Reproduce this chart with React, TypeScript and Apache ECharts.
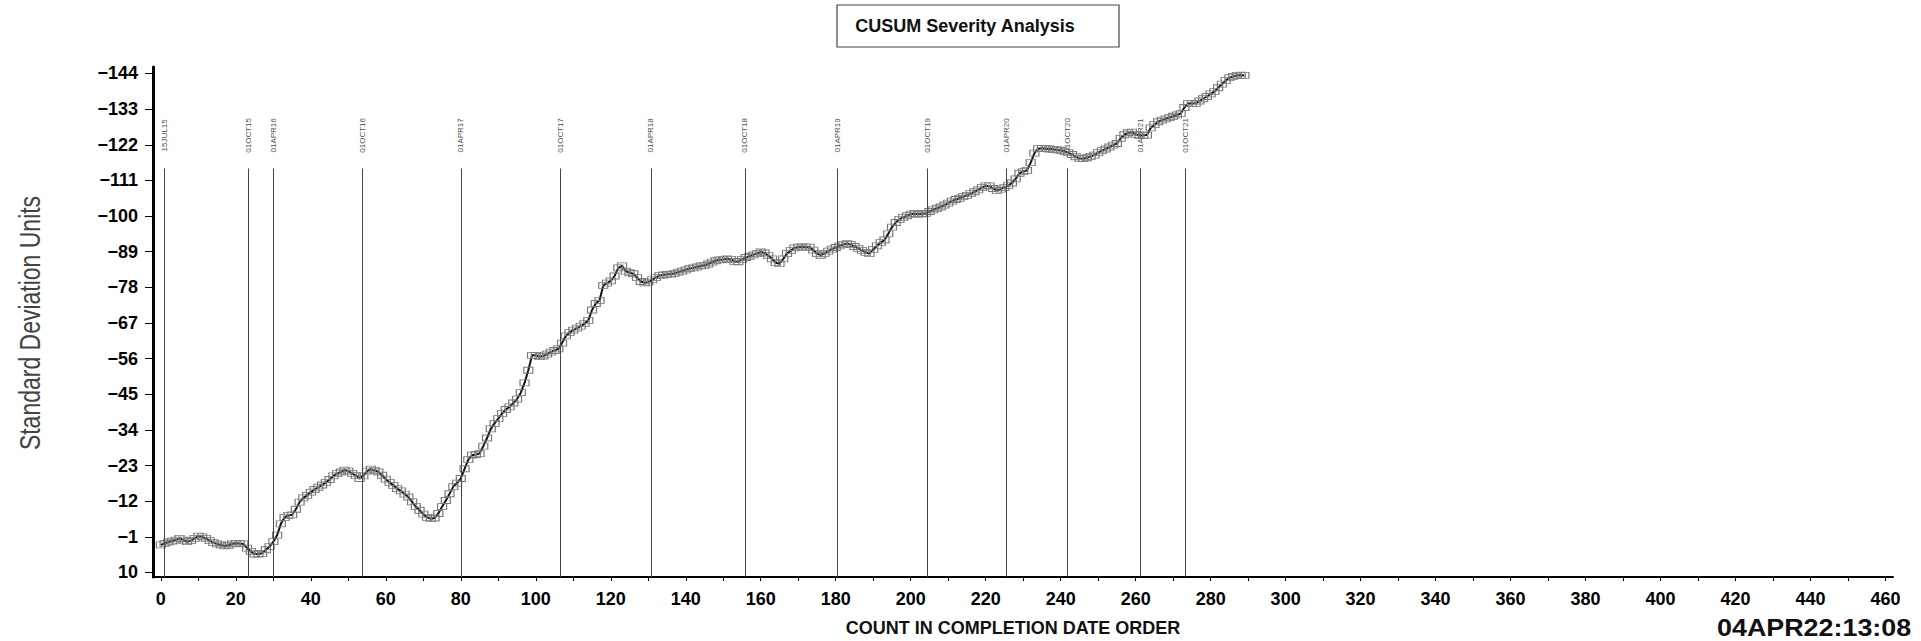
import React, { useEffect, useRef } from "react";
import * as echarts from "echarts";

// CUSUM values, one per count (count 0 .. 289)
const cusumValues: number[] = [
  1.5, 1.0, 0.6, 0.3, 0.0, -0.5, 0.0, 0.5, 0.2, -0.5,
  -1.2, -1.0, -0.5, 0.2, 0.8, 1.2, 1.5, 1.8, 1.6, 1.2,
  1.0, 1.1, 1.2, 2.5, 3.5, 4.3, 4.3, 4.1, 3.0, 2.0,
  0.5, -1.5, -5.0, -7.0, -7.6, -7.8, -9.5, -11.7, -13.0, -13.8,
  -14.8, -15.6, -16.3, -17.0, -17.8, -18.7, -19.8, -20.5, -21.0, -21.6,
  -21.3, -20.6, -19.9, -19.0, -19.8, -21.3, -21.9, -21.5, -21.0, -20.0,
  -18.8, -17.8, -16.9, -15.9, -15.2, -14.2, -13.3, -11.8, -10.3, -9.2,
  -8.0, -7.0, -6.6, -6.8, -8.2, -10.3, -12.2, -14.3, -16.5, -17.6,
  -19.0, -22.0, -24.8, -26.2, -26.4, -26.7, -29.0, -31.5, -34.3, -36.0,
  -37.5, -39.0, -40.3, -41.1, -42.3, -43.5, -45.5, -48.5, -52.4, -57.0,
  -57.0, -56.6, -56.8, -57.4, -58.0, -58.5, -59.0, -60.8, -63.0, -64.0,
  -64.8, -65.4, -66.0, -66.8, -67.8, -71.0, -73.0, -74.0, -78.6, -79.3,
  -80.0, -81.5, -84.0, -84.6, -83.0, -82.5, -82.2, -81.0, -79.8, -79.4,
  -79.6, -80.3, -81.0, -81.7, -81.8, -82.0, -82.1, -82.3, -82.7, -83.0,
  -83.4, -83.8, -84.0, -84.3, -84.6, -84.8, -85.2, -85.8, -86.2, -86.5,
  -86.6, -86.8, -86.6, -86.0, -85.9, -86.6, -87.2, -87.6, -88.0, -88.4,
  -88.9, -88.6, -87.8, -86.8, -85.6, -85.3, -86.8, -88.4, -89.3, -90.2,
  -90.4, -90.5, -90.4, -90.4, -89.5, -88.4, -87.9, -88.5, -89.2, -89.8,
  -90.3, -90.8, -91.2, -91.5, -91.2, -90.6, -90.0, -89.4, -88.8, -88.4,
  -89.7, -90.8, -91.8, -92.6, -94.5, -96.6, -98.0, -99.0, -99.6, -100.1,
  -100.6, -100.7, -100.6, -100.7, -100.8, -101.4, -101.9, -102.4, -102.8, -103.4,
  -104.0, -104.6, -105.1, -105.5, -106.0, -106.4, -106.9, -107.5, -108.1, -108.8,
  -109.3, -109.3, -108.5, -107.9, -108.3, -108.8, -109.4, -110.2, -111.5, -113.2,
  -113.7, -114.1, -116.5, -119.4, -120.8, -120.9, -120.8, -120.7, -120.6, -120.4,
  -120.3, -120.0, -119.6, -119.0, -118.3, -117.8, -117.7, -118.0, -118.4, -118.8,
  -119.6, -120.2, -120.7, -121.3, -121.9, -122.4, -124.0, -125.1, -125.7, -125.9,
  -125.2, -124.9, -124.9, -125.0, -127.2, -128.2, -129.1, -129.6, -130.0, -130.4,
  -130.8, -131.2, -131.6, -133.5, -134.7, -134.7, -134.8, -135.5, -136.2, -136.9,
  -137.7, -138.4, -139.6, -140.7, -141.8, -142.7, -143.1, -143.4, -143.5, -143.4,
];

// Date reference lines (position in count order) and their labels
const markDates: string[] = [
  "15JUL15", "01OCT15", "01APR16", "01OCT16", "01APR17", "01OCT17", "01APR18",
  "01OCT18", "01APR19", "01OCT19", "01APR20", "01OCT20", "01APR21", "01OCT21",
];
const markCounts: number[] = [
  0.9, 23.4, 30.0, 53.8, 80.0, 106.5, 130.7, 155.8, 180.5, 204.5, 225.5, 241.8, 261.2, 273.2,
];
const markLineTop = -114.7;
const markLabelLevel = -124.9;

// Tick labels
const xLabelValues: number[] = [
  0, 20, 40, 60, 80, 100, 120, 140, 160, 180, 200, 220, 240, 260, 280, 300, 320, 340, 360, 380, 400, 420, 440, 460,
];
const xTickValues: number[] = [
  0, 10, 20, 30, 40, 50, 60, 70, 80, 90, 100, 110, 120, 130, 140, 150, 160, 170, 180, 190, 200, 210, 220, 230,
  240, 250, 260, 270, 280, 290, 300, 310, 320, 330, 340, 350, 360, 370, 380, 390, 400, 410, 420, 430, 440, 450, 460,
];
const yLabelValues: number[] = [
  -144, -133, -122, -111, -100, -89, -78, -67, -56, -45, -34, -23, -12, -1, 10,
];

const titleText = "CUSUM Severity Analysis";
const yTitle = "Standard Deviation Units";
const xTitle = "COUNT IN COMPLETION DATE ORDER";
const stampText = "04APR22:13:08";

export default function App() {
  const ref = useRef<HTMLDivElement>(null);

  useEffect(() => {
    if (!ref.current) return;
    const chart = echarts.init(ref.current, null, { renderer: "svg" });
    const font = "'Liberation Sans', Arial, Helvetica, sans-serif";
    const yBottom = 11.4;
    const yTop = -146;

    chart.setOption({
      animation: false,
      backgroundColor: "#ffffff",
      grid: { left: 153, right: 28, top: 67, bottom: 64, containLabel: false },
      xAxis: {
        type: "value",
        min: -2.1,
        max: 462,
        axisLine: { show: true, onZero: false, lineStyle: { color: "#000", width: 2 } },
        axisTick: {
          show: true,
          customValues: xTickValues,
          length: 4,
          lineStyle: { color: "#000", width: 1 },
        },
        axisLabel: {
          customValues: xLabelValues,
          margin: 13,
          fontSize: 18,
          fontWeight: "bold",
          color: "#000",
          fontFamily: font,
        },
        splitLine: { show: false },
      },
      yAxis: {
        type: "value",
        inverse: true,
        min: yTop,
        max: yBottom,
        axisLine: { show: true, onZero: false, lineStyle: { color: "#000", width: 3 } },
        axisTick: {
          show: true,
          customValues: yLabelValues,
          length: 8,
          lineStyle: { color: "#000", width: 1 },
        },
        axisLabel: {
          customValues: yLabelValues,
          margin: 15,
          fontSize: 18,
          fontWeight: "bold",
          color: "#000",
          fontFamily: font,
          formatter: (v: number) => (v < 0 ? "\u2212" + Math.abs(v) : String(v)),
        },
        splitLine: { show: false },
      },
      series: [
        {
          type: "scatter",
          data: markCounts.map((c, i) => ({ value: [c, markLabelLevel], name: markDates[i] })),
          symbolSize: 1,
          itemStyle: { color: "rgba(0,0,0,0)" },
          label: {
            show: true,
            position: "inside",
            rotate: 90,
            formatter: "{b}",
            fontSize: 8,
            color: "#111",
            fontFamily: font,
          },
          silent: true,
          z: 1,
          markLine: {
            silent: true,
            symbol: ["none", "none"],
            label: { show: false },
            lineStyle: { color: "#444", width: 1, type: "solid" },
            data: markCounts.map((c) => [{ coord: [c, yBottom] }, { coord: [c, markLineTop] }]),
          },
        },
        {
          type: "line",
          data: cusumValues.map((v, i) => [i, v]),
          showSymbol: true,
          symbol: "rect",
          symbolSize: [9, 6],
          lineStyle: { color: "#111", width: 2 },
          itemStyle: { color: "rgba(255,255,255,0)", borderColor: "#7a7a7a", borderWidth: 1 },
          z: 3,
        },
      ],
      graphic: [
        {
          type: "rect",
          shape: { x: 837, y: 5, width: 282, height: 42 },
          style: { fill: "#fff", stroke: "#444", lineWidth: 1.2 },
        },
        {
          type: "text",
          x: 965,
          y: 26,
          style: {
            text: titleText,
            fontSize: 18,
            fontWeight: "bold",
            fontFamily: font,
            fill: "#111",
            align: "center",
            verticalAlign: "middle",
          },
        },
        {
          type: "text",
          x: 30.5,
          y: 323,
          rotation: Math.PI / 2,
          scaleY: 1.25,
          style: {
            text: yTitle,
            fontSize: 23,
            fontFamily: font,
            fill: "#444",
            align: "center",
            verticalAlign: "middle",
          },
        },
        {
          type: "text",
          x: 1013,
          y: 628,
          style: {
            text: xTitle,
            fontSize: 18,
            fontWeight: "bold",
            fontFamily: font,
            fill: "#111",
            align: "center",
            verticalAlign: "middle",
          },
        },
        {
          type: "text",
          x: 1717,
          y: 640,
          scaleX: 1.12,
          style: {
            text: stampText,
            fontSize: 24,
            fontWeight: "bold",
            fontFamily: font,
            fill: "#111",
            align: "left",
            verticalAlign: "bottom",
          },
        },
      ],
    });

    return () => {
      chart.dispose();
    };
  }, []);

  return (
    <div
      ref={ref}
      style={{ position: "fixed", left: 0, top: 0, width: "1921px", height: "641px", background: "#fff" }}
    />
  );
}
